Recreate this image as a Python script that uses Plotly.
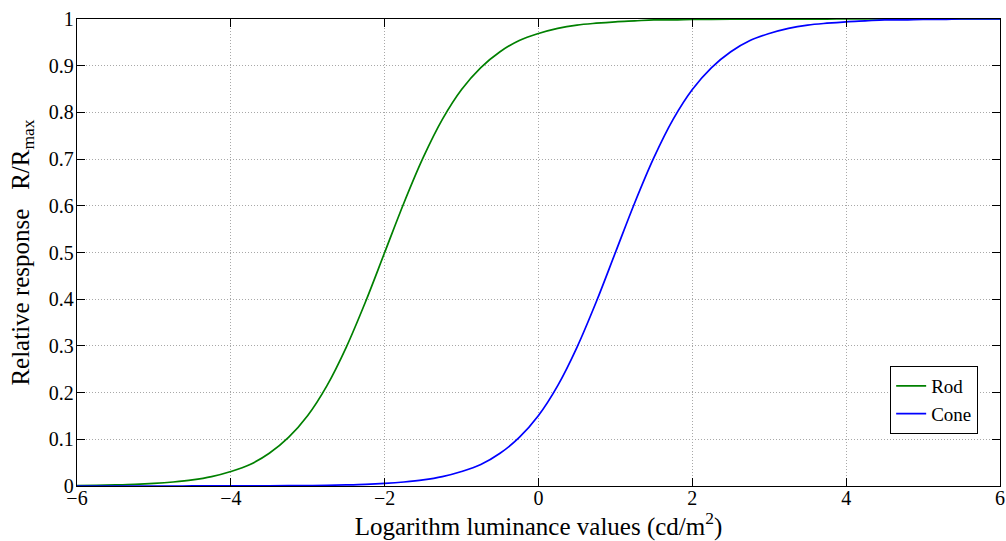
import plotly.graph_objects as go

# log luminance sample positions (cd/m^2, log10)
x_vals = [-6 + 0.25 * i for i in range(49)]

# Relative response (R/Rmax)
rod = [0.0010, 0.0015, 0.0024, 0.0036, 0.0056, 0.0086, 0.013, 0.020, 0.031,
       0.046, 0.070, 0.104, 0.151, 0.215, 0.297, 0.394, 0.500, 0.606, 0.703,
       0.785, 0.849, 0.896, 0.930, 0.954, 0.969, 0.980, 0.987, 0.991, 0.994,
       0.996, 0.998, 0.998, 0.999, 0.9994, 0.9996, 0.9997, 0.9998, 0.9999,
       0.9999, 0.9999, 1.0, 1.0, 1.0, 1.0, 1.0, 1.0, 1.0, 1.0, 1.0]
cone = [0.00001, 0.00001, 0.00001, 0.00002, 0.00003, 0.00005, 0.00007, 0.0001,
        0.0002, 0.0003, 0.0004, 0.0006, 0.0010, 0.0015, 0.0024, 0.0036, 0.0056,
        0.0086, 0.013, 0.020, 0.031, 0.046, 0.070, 0.104, 0.151, 0.215, 0.297,
        0.394, 0.500, 0.606, 0.703, 0.785, 0.849, 0.896, 0.930, 0.954, 0.969,
        0.980, 0.987, 0.991, 0.994, 0.996, 0.998, 0.998, 0.999, 0.999, 1.0,
        1.0, 1.0]

x_ticks = [-6, -4, -2, 0, 2, 4, 6]
y_ticks = [0, 0.1, 0.2, 0.3, 0.4, 0.5, 0.6, 0.7, 0.8, 0.9, 1]
y_tick_text = ["0", "0.1", "0.2", "0.3", "0.4", "0.5", "0.6", "0.7", "0.8", "0.9", "1"]

font_family = "Liberation Serif"

fig = go.Figure()
fig.add_trace(go.Scatter(x=x_vals, y=rod, mode="lines", name="Rod",
                         line=dict(color="#008000", width=1.7, shape="spline")))
fig.add_trace(go.Scatter(x=x_vals, y=cone, mode="lines", name="Cone",
                         line=dict(color="#0000ff", width=1.7, shape="spline")))

axis_common = dict(showline=True, linecolor="black", linewidth=1.3, mirror="ticks",
                   ticks="inside", ticklen=8, tickcolor="black", tickwidth=1,
                   showgrid=True, gridcolor="#a8a8a8", griddash="1px,2px", gridwidth=1,
                   zeroline=False, automargin=False, ticklabeloverflow="allow",
                   tickfont=dict(family=font_family, size=20, color="black"))

fig.update_xaxes(range=[-6, 6], tickvals=x_ticks, ticklabelstandoff=-6,
                 title=dict(text="Logarithm luminance values (cd/m<sup>2</sup>)",
                            font=dict(family=font_family, size=25, color="black"),
                            standoff=0),
                 **axis_common)
fig.update_yaxes(range=[0, 1], tickvals=y_ticks, ticktext=y_tick_text,
                 ticklabelstandoff=-2,
                 title=dict(text="Relative response   R/R<sub>max</sub>",
                            font=dict(family=font_family, size=25, color="black"),
                            standoff=12),
                 **axis_common)

fig.update_layout(
    width=1006, height=541,
    margin=dict(l=77, r=6, t=19, b=55, autoexpand=False),
    paper_bgcolor="white", plot_bgcolor="white",
    font=dict(family=font_family, color="black"),
    legend=dict(x=0.881, y=0.257, xanchor="left", yanchor="top",
                bgcolor="white", bordercolor="black", borderwidth=1,
                font=dict(family=font_family, size=19, color="black"),
                tracegroupgap=0, itemwidth=30),
    showlegend=True,
)

fig.write_html("out.html",
               config={"displayModeBar": False},
               post_script="document.body.style.margin='0px';"
                           "document.body.style.overflow='hidden';")
